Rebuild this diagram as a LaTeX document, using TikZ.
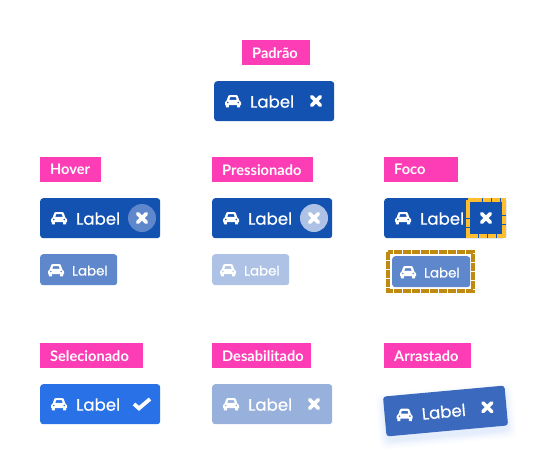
\documentclass[tikz,border=0pt]{standalone}
\usepackage{fontspec}
\setmainfont{Lato}
\newfontfamily\labelfont[FakeBold=0.35]{Poppins}
\definecolor{tagpink}{HTML}{FD3DB5}
\definecolor{blueA}{HTML}{1352B1}
\definecolor{blueH}{HTML}{5F87CB}
\definecolor{blueP}{HTML}{ADC2E4}
\definecolor{blueS}{HTML}{2871E6}
\definecolor{blueD}{HTML}{98B0DC}
\definecolor{blueG}{HTML}{3A69BD}
\definecolor{ringY}{HTML}{FFBE2E}
\definecolor{ringB}{HTML}{C08A10}
\tikzset{
  x=1pt,y=-1pt,
  tagbox/.style={fill=tagpink,text=white,anchor=north west,inner xsep=10pt,inner ysep=0pt,
    minimum height=25pt,align=left,font=\fontsize{14.6}{14.6}\selectfont\bfseries},
  chipbox/.style={anchor=north west,rounded corners=3pt,minimum width=120pt,minimum height=40pt,inner sep=0pt,transform shape},
  smallbox/.style={chipbox,minimum width=77pt,minimum height=31pt},
  biglabel/.style={text=white,anchor=west,inner sep=0pt,font=\labelfont\fontsize{16.6}{17}\selectfont,transform shape},
  smalllabel/.style={text=white,anchor=west,inner sep=0pt,font=\labelfont\fontsize{13.4}{14}\selectfont,transform shape},
  cross/.style={draw=white,line width=3.6pt,line cap=round},
  car/.pic={
    \fill[white,even odd rule]
      (-6.2,-0.8) -- (-4.8,-5) .. controls (-4.5,-5.8) and (-4,-6) .. (-3.4,-6) -- (3.4,-6)
        .. controls (4,-6) and (4.5,-5.8) .. (4.8,-5) -- (6.2,-0.8)
        .. controls (7.4,-0.5) and (8,0.3) .. (8,1.4) -- (8,4) -- (7.2,4) -- (7.2,6.4) -- (4.2,6.4) -- (4.2,4)
        -- (-4.2,4) -- (-4.2,6.4) -- (-7.2,6.4) -- (-7.2,4) -- (-8,4) -- (-8,1.4)
        .. controls (-8,0.3) and (-7.4,-0.5) .. (-6.2,-0.8) -- cycle
      (-3.7,-1.2) -- (-2.9,-3.8) -- (2.9,-3.8) -- (3.7,-1.2) -- cycle
      (-5.2,1.5) circle (1.1)
      (5.2,1.5) circle (1.1);
  },
  xmark/.pic={\draw[cross] (-4.4,-4.4) -- (4.4,4.4) (-4.4,4.4) -- (4.4,-4.4);},
  vmark/.pic={\draw[white,line width=3.8pt,line join=miter] (-8,0) -- (-3,4.4) -- (8,-5);}
}
\begin{document}
\begin{tikzpicture}
\useasboundingbox (0,0) rectangle (551,474);
% tags
\node[tagbox,text width=48pt] (tagPadrao) at (242,40) {Padrão};
\node[tagbox,text width=41pt] (tagHover) at (40,157) {Hover};
\node[tagbox,text width=81pt] (tagPress) at (212,157) {Pressionado};
\node[tagbox,text width=54pt] (tagFoco) at (384,157) {Foco};
\node[tagbox,text width=83pt] (tagSel) at (40,343) {Selecionado};
\node[tagbox,text width=79pt] (tagDes) at (212,343) {Desabilitado};
\node[tagbox,text width=67pt] (tagArr) at (384,343) {Arrastado};
% Padrao
\node[chipbox,fill=blueA] (chipPadrao) at (214,81) {};
\pic at (233,101) {car};
\node[biglabel] (lblPadrao) at (250,101.6) {Label};
\pic at (316,101) {xmark};
% Hover
\node[chipbox,fill=blueA] (chipHover) at (40,198) {};
\pic at (59,218) {car};
\node[biglabel] (lblHover) at (76,218.6) {Label};
\node[circle,fill=blueH,minimum size=28pt,inner sep=0pt] (circHover) at (142,218) {};
\pic at (142,218) {xmark};
\node[smallbox,fill=blueH] (smHover) at (40,254) {};
\pic at (56,270) {car};
\node[smalllabel] (lblSmHover) at (72,270.6) {Label};
% Pressionado
\node[chipbox,fill=blueA] (chipPress) at (212,198) {};
\pic at (231,218) {car};
\node[biglabel] (lblPress) at (248,218.6) {Label};
\node[circle,fill=blueP,minimum size=28pt,inner sep=0pt] (circPress) at (314,218) {};
\pic at (314,218) {xmark};
\node[smallbox,fill=blueP] (smPress) at (212,254) {};
\pic at (228,270) {car};
\node[smalllabel] (lblSmPress) at (244,270.6) {Label};
% Foco
\node[chipbox,fill=blueA,minimum width=122pt] (chipFoco) at (384,198) {};
\fill[blueA] (466,198) rectangle (506,238);
\pic at (403,218) {car};
\node[biglabel] (lblFoco) at (420,218.6) {Label};
\draw[ringY,line width=4pt,dash pattern=on 8.6pt off 0.7pt] (468,200) rectangle (504,236);
\pic at (486,218) {xmark};
\node[smallbox,fill=blueH,minimum width=78pt] (smFoco) at (392,256) {};
\pic at (408,272) {car};
\node[smalllabel] (lblSmFoco) at (424,272.6) {Label};
\draw[ringB,line width=4pt,dash pattern=on 8pt off 1pt] (388,252) rectangle (473,291);
% Selecionado
\node[chipbox,fill=blueS] (chipSel) at (40,384) {};
\pic at (59,404) {car};
\node[biglabel] (lblSel) at (76,404.6) {Label};
\pic at (142,404) {vmark};
% Desabilitado
\node[chipbox,fill=blueD] (chipDes) at (212,384) {};
\pic at (231,404) {car};
\node[biglabel] (lblDes) at (248,404.6) {Label};
\pic at (314,404) {xmark};
% Arrastado
\begin{scope}[shift={(445.5,411)},rotate=5.2]
  \foreach \g/\o in {8/0.012,6.5/0.016,5/0.02,3.5/0.025,2/0.03,0.5/0.035}{
    \fill[blueS,opacity=\o,rounded corners=7pt] (-61-\g,-20-\g+5) rectangle (61+\g,20+\g+5);
  }
  \node[chipbox,fill=blueG,anchor=center,minimum width=122pt] (chipArr) at (0,0) {};
  \pic at (-41,0) {car};
  \node[biglabel] (lblArr) at (-24,0.6) {Label};
  \pic at (42,0) {xmark};
\end{scope}
\end{tikzpicture}
\end{document}
